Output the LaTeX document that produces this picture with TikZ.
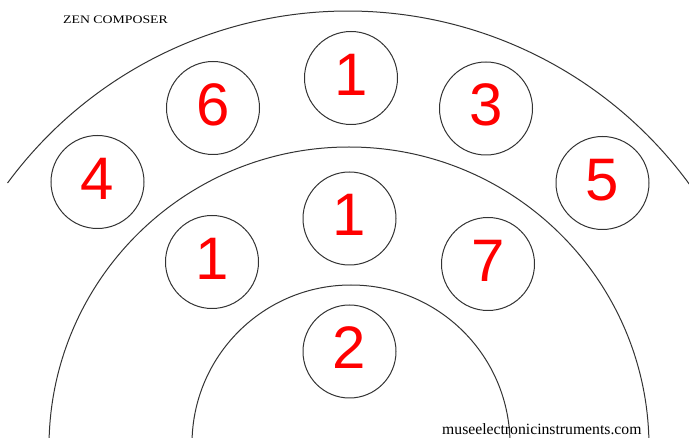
\documentclass[tikz,border=0pt]{standalone}
\usepackage{fontspec}
\setmainfont{Liberation Serif}
\newfontfamily\digitfont{Liberation Sans}
\newfontfamily\titlefont[FakeStretch=1.2]{Liberation Serif}
\tikzset{
  ring/.style={draw=black!80, line width=1pt},
  dial/.style={circle, draw=black!80, line width=1pt, minimum size=93pt, inner sep=0pt,
    text=red, font=\digitfont\fontsize{60}{60}\selectfont, text height=43pt, text depth=8pt},
}
\begin{document}
\begin{tikzpicture}[x=1pt,y=-1pt]
\useasboundingbox (0,0) rectangle (689,438);
\clip (0,0) rectangle (689,438);
% arcs
\draw[ring] ([shift={(-143.6:423)}]348,434) arc[start angle=-143.6, end angle=-30, radius=423];
\draw[ring] (349,447) circle[radius=300];
\draw[ring] (351,444) circle[radius=159];
% dials, outer ring
\node[dial] (o4) at (97.5,182) {4};
\node[dial] (o6) at (213,108) {6};
\node[dial] (o1) at (351,78) {1};
\node[dial] (o3) at (486,108.5) {3};
\node[dial] (o5) at (602.5,183) {5};
% dials, middle ring
\node[dial] (m1l) at (212,262) {1};
\node[dial] (m1) at (349.5,218.5) {1};
\node[dial] (m7) at (488,264) {7};
% dial, inner
\node[dial] (i2) at (349.5,351.5) {2};
% texts
\node[anchor=base west, inner sep=0pt, font=\titlefont\fontsize{11.5}{12}\selectfont] (title) at (63,24) {ZEN COMPOSER};
\node[anchor=base west, inner sep=0pt, font=\fontsize{15.7}{16}\selectfont] (url) at (442,435) {museelectronicinstruments.com};
\end{tikzpicture}
\end{document}
